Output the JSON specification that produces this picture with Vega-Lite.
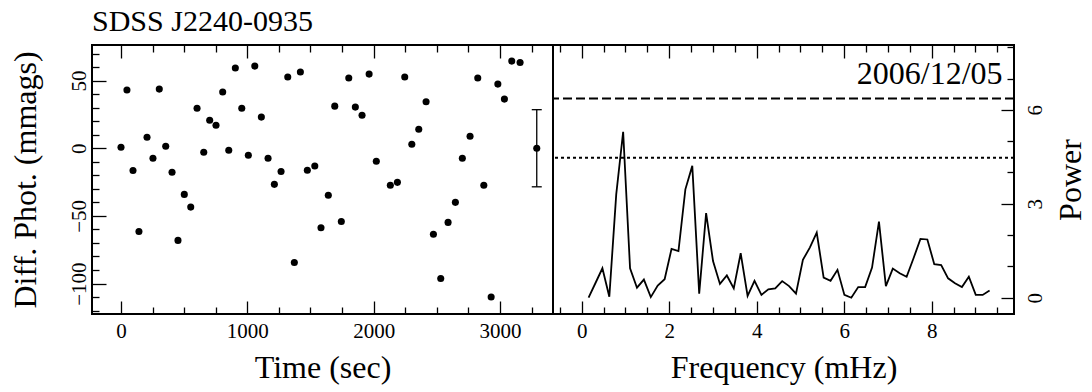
{
  "$schema": "https://vega.github.io/schema/vega-lite/v6.json",
  "background": "white",
  "padding": {"left": 7, "top": 5, "right": 5, "bottom": 5},
  "spacing": 0,
  "bounds": "flush",
  "config": {
    "view": {"stroke": "black", "strokeWidth": 2},
    "font": "Liberation Serif",
    "axis": {
      "domain": false, "grid": false, "tickColor": "black", "tickWidth": 1.3,
      "labelFont": "Liberation Serif", "labelFontSize": 21, "labelColor": "black",
      "titleFont": "Liberation Serif", "titleFontSize": 32, "titleFontWeight": "normal", "titleColor": "black",
      "labelFlush": false, "labelOverlap": false, "labelBound": false
    }
  },
  "datasets": {
    "phot": [
      {"t":0,"v":0.7},{"t":47,"v":43},{"t":95,"v":-16.4},{"t":142,"v":-61.5},{"t":206,"v":8.1},{"t":253,"v":-7.4},
      {"t":303,"v":43.7},{"t":354,"v":1.5},{"t":404,"v":-17.8},{"t":451,"v":-68.1},{"t":501,"v":-34.1},{"t":552,"v":-43.5},
      {"t":602,"v":29.6},{"t":655,"v":-3},{"t":702,"v":20.7},{"t":752,"v":17},{"t":805,"v":41.5},{"t":853,"v":-1.5},
      {"t":905,"v":59.3},{"t":956,"v":29.6},{"t":1008,"v":-5.2},{"t":1059,"v":60.7},{"t":1111,"v":23},{"t":1164,"v":-7.4},
      {"t":1214,"v":-26.7},{"t":1267,"v":-17.2},{"t":1320,"v":52.6},{"t":1372,"v":-84.4},{"t":1420,"v":56.3},{"t":1475,"v":-16.3},
      {"t":1534,"v":-13.1},{"t":1583,"v":-58.8},{"t":1641,"v":-34.8},{"t":1692,"v":31.1},{"t":1744,"v":-54.1},{"t":1803,"v":51.9},
      {"t":1855,"v":30.4},{"t":1908,"v":24.4},{"t":1964,"v":54.8},{"t":2021,"v":-9.6},{"t":2132,"v":-27.4},{"t":2188,"v":-25.2},
      {"t":2246,"v":52.6},{"t":2302,"v":3},{"t":2357,"v":14.1},{"t":2415,"v":34.3},{"t":2473,"v":-63.5},{"t":2531,"v":-96.3},
      {"t":2589,"v":-54.8},{"t":2647,"v":-40},{"t":2702,"v":-7.4},{"t":2763,"v":8.9},{"t":2824,"v":51.9},{"t":2872,"v":-27.4},
      {"t":2930,"v":-110},{"t":2983,"v":47.4},{"t":3035,"v":36.3},{"t":3093,"v":64.4},{"t":3159,"v":63.4}
    ],
    "err": [{"t": 3291, "v": 0, "lo": -28.5, "hi": 28.5}],
    "pgram": [
      {"f":0.158,"p":0},{"f":0.316,"p":0.47},{"f":0.474,"p":0.94},{"f":0.632,"p":0.03},{"f":0.79,"p":3.3},{"f":0.948,"p":5.3},
      {"f":1.106,"p":0.94},{"f":1.264,"p":0.32},{"f":1.422,"p":0.58},{"f":1.58,"p":0.02},{"f":1.738,"p":0.39},{"f":1.896,"p":0.59},
      {"f":2.054,"p":1.56},{"f":2.212,"p":1.49},{"f":2.37,"p":3.46},{"f":2.528,"p":4.21},{"f":2.686,"p":0.13},{"f":2.844,"p":2.7},
      {"f":3.002,"p":1.17},{"f":3.16,"p":0.44},{"f":3.318,"p":0.71},{"f":3.476,"p":0.3},{"f":3.634,"p":1.42},{"f":3.792,"p":0.06},
      {"f":3.95,"p":0.54},{"f":4.108,"p":0.09},{"f":4.266,"p":0.27},{"f":4.424,"p":0.3},{"f":4.582,"p":0.53},{"f":4.74,"p":0.37},
      {"f":4.898,"p":0.13},{"f":5.056,"p":1.21},{"f":5.214,"p":1.6},{"f":5.372,"p":2.08},{"f":5.53,"p":0.64},{"f":5.688,"p":0.54},
      {"f":5.846,"p":0.89},{"f":6.004,"p":0.09},{"f":6.162,"p":0},{"f":6.32,"p":0.34},{"f":6.478,"p":0.34},{"f":6.636,"p":0.96},
      {"f":6.794,"p":2.43},{"f":6.952,"p":0.37},{"f":7.11,"p":0.93},{"f":7.268,"p":0.78},{"f":7.426,"p":0.67},{"f":7.584,"p":1.26},
      {"f":7.742,"p":1.88},{"f":7.9,"p":1.86},{"f":8.058,"p":1.07},{"f":8.216,"p":1.04},{"f":8.374,"p":0.62},{"f":8.532,"p":0.46},
      {"f":8.69,"p":0.34},{"f":8.848,"p":0.67},{"f":9.006,"p":0.09},{"f":9.164,"p":0.09},{"f":9.322,"p":0.23}
    ],
    "levels": [{"level": 6.36, "kind": "dashed"}, {"level": 4.47, "kind": "dotted"}],
    "date": [{"f": 9.62, "p": 6.83, "label": "2006/12/05"}]
  },
  "hconcat": [
    {
      "width": 461, "height": 269,
      "title": {"text": "SDSS J2240-0935", "anchor": "start", "frame": "group", "fontSize": 30, "font": "Liberation Serif", "fontWeight": "normal", "color": "black", "baseline": "alphabetic", "offset": -16.5},
      "layer": [
        {
          "data": {"name": "phot"},
          "mark": {"type": "circle", "size": 50, "color": "black", "opacity": 1},
          "encoding": {
            "x": {"field": "t", "type": "quantitative",
              "scale": {"domain": [-229.6, 3419.6], "nice": false, "zero": false},
              "axis": {"orient": "bottom", "title": "Time (sec)",
                "values": [0,250,500,750,1000,1250,1500,1750,2000,2250,2500,2750,3000,3250],
                "labelExpr": "datum.value % 1000 === 0 ? format(datum.value, 'd') : ''",
                "labelOverlap": false,
                "tickSize": {"condition": {"test": "datum.value % 1000 === 0", "value": -13}, "value": -7},
                "labelPadding": 36.5, "labelBaseline": "alphabetic", "titleY": 63.7, "titleBaseline": "alphabetic"}},
            "y": {"field": "v", "type": "quantitative",
              "scale": {"domain": [-122.5, 76.3], "nice": false, "zero": false},
              "axis": {"orient": "left", "title": "Diff. Phot. (mmags)",
                "values": [-120,-110,-100,-90,-80,-70,-60,-50,-40,-30,-20,-10,0,10,20,30,40,50,60,70],
                "labelExpr": "datum.value % 50 === 0 ? format(datum.value, 'd') : ''",
                "labelOverlap": false,
                "tickSize": {"condition": {"test": "datum.value % 50 === 0", "value": -14}, "value": -7},
                "labelAngle": -90, "labelAlign": "center", "labelBaseline": "alphabetic", "labelPadding": 21,
                "titleAngle": -90, "titleX": -57, "titleBaseline": "alphabetic"}}
          }
        },
        {
          "data": {"name": "err"},
          "mark": {"type": "circle", "size": 50, "color": "black", "opacity": 1},
          "encoding": {
            "x": {"field": "t", "type": "quantitative",
              "scale": {"domain": [-229.6, 3419.6], "nice": false, "zero": false},
              "axis": {"orient": "top", "title": null, "labels": false,
                "values": [0,250,500,750,1000,1250,1500,1750,2000,2250,2500,2750,3000,3250],
                "tickSize": {"condition": {"test": "datum.value % 1000 === 0", "value": -13}, "value": -7}}},
            "y": {"field": "v", "type": "quantitative",
              "scale": {"domain": [-122.5, 76.3], "nice": false, "zero": false}, "axis": null}
          }
        },
        {
          "data": {"name": "err"},
          "mark": {"type": "rule", "strokeWidth": 1.3, "color": "black"},
          "encoding": {
            "x": {"field": "t", "type": "quantitative", "scale": {"domain": [-229.6, 3419.6], "nice": false, "zero": false}, "axis": null},
            "y": {"field": "lo", "type": "quantitative", "scale": {"domain": [-122.5, 76.3], "nice": false, "zero": false}, "axis": null},
            "y2": {"field": "hi"}
          }
        },
        {
          "data": {"name": "err"},
          "mark": {"type": "tick", "orient": "horizontal", "size": 10, "thickness": 1.3, "color": "black", "opacity": 1},
          "encoding": {
            "x": {"field": "t", "type": "quantitative", "scale": {"domain": [-229.6, 3419.6], "nice": false, "zero": false}, "axis": null},
            "y": {"field": "lo", "type": "quantitative", "scale": {"domain": [-122.5, 76.3], "nice": false, "zero": false}, "axis": null}
          }
        },
        {
          "data": {"name": "err"},
          "mark": {"type": "tick", "orient": "horizontal", "size": 10, "thickness": 1.3, "color": "black", "opacity": 1},
          "encoding": {
            "x": {"field": "t", "type": "quantitative", "scale": {"domain": [-229.6, 3419.6], "nice": false, "zero": false}, "axis": null},
            "y": {"field": "hi", "type": "quantitative", "scale": {"domain": [-122.5, 76.3], "nice": false, "zero": false}, "axis": null}
          }
        }
      ],
      "resolve": {"axis": {"x": "independent", "y": "independent"}}
    },
    {
      "width": 461, "height": 269,
      "layer": [
        {
          "data": {"name": "pgram"},
          "mark": {"type": "line", "color": "black", "strokeWidth": 1.8},
          "encoding": {
            "x": {"field": "f", "type": "quantitative",
              "scale": {"domain": [-0.655, 9.88], "nice": false, "zero": false},
              "axis": {"orient": "bottom", "title": "Frequency (mHz)",
                "values": [-0.5,0,0.5,1,1.5,2,2.5,3,3.5,4,4.5,5,5.5,6,6.5,7,7.5,8,8.5,9,9.5],
                "labelExpr": "datum.value % 2 === 0 ? format(datum.value, 'd') : ''",
                "labelOverlap": false,
                "tickSize": {"condition": {"test": "datum.value % 2 === 0", "value": -13}, "value": -7},
                "labelPadding": 36.5, "labelBaseline": "alphabetic", "titleY": 63.7, "titleBaseline": "alphabetic"}},
            "y": {"field": "p", "type": "quantitative",
              "scale": {"domain": [-0.52, 8.07], "nice": false, "zero": false},
              "axis": {"orient": "right", "title": "Power",
                "values": [0,1,2,3,4,5,6,7,8],
                "labelExpr": "datum.value % 3 === 0 ? format(datum.value, 'd') : ''",
                "labelOverlap": false,
                "tickSize": {"condition": {"test": "datum.value % 3 === 0", "value": -13}, "value": -7},
                "labelAngle": -90, "labelAlign": "center", "labelBaseline": "alphabetic", "labelPadding": 40,
                "titleAngle": -90, "titleX": 66, "titleBaseline": "alphabetic"}}
          }
        },
        {
          "data": {"name": "levels"},
          "mark": {"type": "rule", "strokeWidth": 2, "color": "black"},
          "encoding": {
            "y": {"field": "level", "type": "quantitative", "scale": {"domain": [-0.52, 8.07], "nice": false, "zero": false}, "axis": null},
            "strokeDash": {"field": "kind", "type": "nominal", "scale": {"domain": ["dashed", "dotted"], "range": [[9, 4], [3, 3]]}, "legend": null}
          }
        },
        {
          "data": {"name": "date"},
          "mark": {"type": "text", "align": "right", "baseline": "alphabetic", "font": "Liberation Serif", "fontSize": 32, "color": "black"},
          "encoding": {
            "x": {"field": "f", "type": "quantitative",
              "scale": {"domain": [-0.655, 9.88], "nice": false, "zero": false},
              "axis": {"orient": "top", "title": null, "labels": false,
                "values": [-0.5,0,0.5,1,1.5,2,2.5,3,3.5,4,4.5,5,5.5,6,6.5,7,7.5,8,8.5,9,9.5],
                "tickSize": {"condition": {"test": "datum.value % 2 === 0", "value": -13}, "value": -7}}},
            "y": {"field": "p", "type": "quantitative", "scale": {"domain": [-0.52, 8.07], "nice": false, "zero": false}, "axis": null},
            "text": {"field": "label"}
          }
        }
      ],
      "resolve": {"axis": {"x": "independent", "y": "independent"}}
    }
  ]
}
